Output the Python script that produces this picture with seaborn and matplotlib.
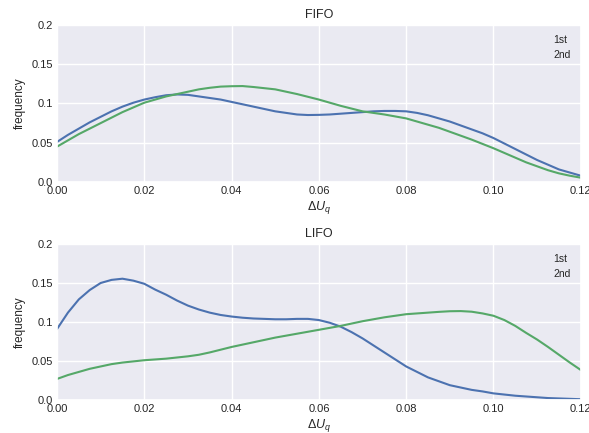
import numpy as np
import pandas as pd
import matplotlib
matplotlib.use("Agg")
import matplotlib.pyplot as plt
import seaborn as sns

x_vals = [round(i * 0.0025, 4) for i in range(49)]

fifo_1st = [0.051, 0.060, 0.068, 0.076, 0.083, 0.090, 0.096, 0.101, 0.105, 0.108,
            0.1105, 0.1115, 0.111, 0.109, 0.107, 0.105, 0.102, 0.099, 0.096, 0.093,
            0.090, 0.088, 0.086, 0.0853, 0.0855, 0.086, 0.087, 0.088, 0.089, 0.090,
            0.0905, 0.0905, 0.090, 0.088, 0.085, 0.081, 0.077, 0.072, 0.067, 0.062,
            0.056, 0.049, 0.042, 0.035, 0.028, 0.022, 0.016, 0.012, 0.008]
fifo_2nd = [0.045, 0.053, 0.061, 0.068, 0.075, 0.082, 0.089, 0.095, 0.101, 0.105,
            0.109, 0.112, 0.115, 0.118, 0.120, 0.1215, 0.122, 0.1222, 0.121, 0.1195,
            0.118, 0.115, 0.112, 0.1085, 0.105, 0.101, 0.097, 0.0935, 0.090, 0.088,
            0.086, 0.0835, 0.081, 0.077, 0.073, 0.069, 0.064, 0.059, 0.054, 0.0485,
            0.043, 0.037, 0.031, 0.025, 0.020, 0.015, 0.011, 0.008, 0.0055]

lifo_1st = [0.091, 0.112, 0.129, 0.141, 0.150, 0.154, 0.1555, 0.153, 0.149, 0.1415,
            0.135, 0.1275, 0.121, 0.116, 0.112, 0.109, 0.107, 0.1055, 0.1045, 0.104,
            0.1035, 0.1035, 0.104, 0.104, 0.1025, 0.099, 0.094, 0.087, 0.079, 0.070,
            0.061, 0.052, 0.043, 0.036, 0.029, 0.024, 0.019, 0.016, 0.013, 0.011,
            0.0085, 0.007, 0.0055, 0.0045, 0.0035, 0.0025, 0.002, 0.0015, 0.001]
lifo_2nd = [0.027, 0.032, 0.036, 0.040, 0.043, 0.046, 0.048, 0.0495, 0.051, 0.052,
            0.053, 0.0545, 0.056, 0.058, 0.061, 0.0645, 0.068, 0.071, 0.074, 0.077,
            0.080, 0.0825, 0.085, 0.0875, 0.090, 0.0925, 0.095, 0.098, 0.101, 0.1035,
            0.106, 0.108, 0.110, 0.111, 0.112, 0.113, 0.1138, 0.114, 0.1132, 0.111,
            0.108, 0.1025, 0.095, 0.086, 0.0775, 0.068, 0.058, 0.048, 0.0385]

series_names = ["1st", "2nd"]
panel_titles = ["FIFO", "LIFO"]
x_ticks = [0.00, 0.02, 0.04, 0.06, 0.08, 0.10, 0.12]
x_tick_labels = ["0.00", "0.02", "0.04", "0.06", "0.08", "0.10", "0.12"]
y_ticks = [0.0, 0.05, 0.1, 0.15, 0.2]
y_tick_labels = ["0.0", "0.05", "0.1", "0.15", "0.2"]

# ---- style ----
sns.set_theme(style="darkgrid")
plt.rcParams["font.family"] = ["Liberation Sans", "DejaVu Sans"]
plt.rcParams["mathtext.fontset"] = "custom"
plt.rcParams["mathtext.rm"] = "Liberation Sans"
plt.rcParams["mathtext.it"] = "Liberation Sans:italic"
text_color = "#262626"
palette = {"1st": "#4C72B0", "2nd": "#55A868"}

fig = plt.figure(figsize=(5.89, 4.33), dpi=100)
ax_top = fig.add_axes([0.0968, 0.5797, 0.8892, 0.3626])
ax_bot = fig.add_axes([0.0968, 0.0762, 0.8892, 0.3603])

panels = [(ax_top, fifo_1st, fifo_2nd), (ax_bot, lifo_1st, lifo_2nd)]
for (ax, s1, s2), title in zip(panels, panel_titles):
    df = pd.DataFrame({
        "x": x_vals * 2,
        "y": s1 + s2,
        "series": [series_names[0]] * len(x_vals) + [series_names[1]] * len(x_vals),
    })
    sns.lineplot(data=df, x="x", y="y", hue="series", palette=palette,
                 ax=ax, linewidth=1.5)
    for ln in ax.get_lines():
        ln.set_solid_joinstyle("round")
        ln.set_solid_capstyle("round")
    ax.set_xlim(0, 0.12)
    ax.set_ylim(0, 0.2)
    ax.set_xticks(x_ticks)
    ax.set_xticklabels(x_tick_labels)
    ax.set_yticks(y_ticks)
    ax.set_yticklabels(y_tick_labels)
    ax.tick_params(axis="both", labelsize=8, colors=text_color, length=0, pad=3)
    ax.set_xlabel(r"$\Delta U_q$", fontsize=9, color=text_color, labelpad=2)
    ax.set_ylabel("frequency", fontsize=8.5, color=text_color, labelpad=4)
    ax.set_title(title, fontsize=9, color=text_color, pad=5)
    leg = ax.legend(loc="upper right", frameon=False, handlelength=0,
                    handletextpad=0, fontsize=7.5, borderaxespad=0.6,
                    labelspacing=0.4)
    for h in leg.legend_handles:
        h.set_visible(False)
    for t in leg.get_texts():
        t.set_color(text_color)

fig.savefig("out.png", dpi=100)
